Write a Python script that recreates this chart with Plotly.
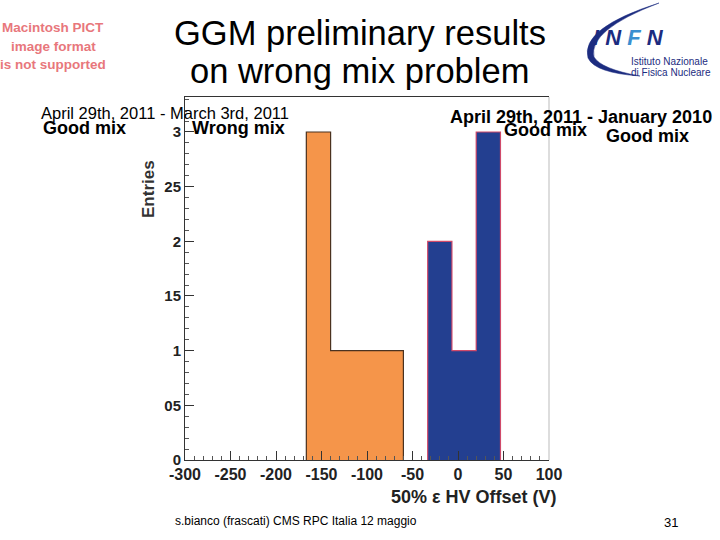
import numpy as np
import plotly.graph_objects as go

# ---------------- data ----------------
bin_edges = list(np.linspace(-300, 100, 16))          # 15 bins of 26.67 V
wrong_mix_counts = [0, 0, 0, 0, 0, 3, 1, 1, 1, 0, 0, 0, 0, 0, 0]   # April 29th, 2011 - March 3rd, 2011
good_mix_counts = [0, 0, 0, 0, 0, 0, 0, 0, 0, 0, 2, 1, 3, 0, 0]    # April 29th, 2011 - January 2010
x_tick_vals = [-300, -250, -200, -150, -100, -50, 0, 50, 100]
x_tick_text = ["-300", "-250", "-200", "-150", "-100", "-50", "0", "50", "100"]
y_tick_vals = [0, 0.5, 1, 1.5, 2, 2.5, 3]
y_tick_text = ["0", "05", "1", "15", "2", "25", "3"]

centers = [(a + b) / 2 for a, b in zip(bin_edges[:-1], bin_edges[1:])]
bw = bin_edges[1] - bin_edges[0]


def step_outline(counts):
    nz = [i for i, c in enumerate(counts) if c > 0]
    i0, i1 = nz[0], nz[-1]
    xs = [bin_edges[i0]] + bin_edges[i0:i1 + 2]
    ys = [0] + counts[i0:i1 + 1] + [0]
    return xs, ys


FONT = "Liberation Sans, Arial, sans-serif"
ORANGE = "#F5954A"
BLUE = "#233F90"

fig = go.Figure()
fig.add_trace(go.Bar(x=centers, y=wrong_mix_counts, width=bw, marker=dict(color=ORANGE, line=dict(width=0)),
                     hoverinfo="skip"))
fig.add_trace(go.Bar(x=centers, y=good_mix_counts, width=bw, marker=dict(color=BLUE, line=dict(width=0)),
                     hoverinfo="skip"))
xs, ys = step_outline(wrong_mix_counts)
fig.add_trace(go.Scatter(x=xs, y=ys, mode="lines", line=dict(shape="hv", color="#4a3220", width=1.2),
                         hoverinfo="skip"))
xs, ys = step_outline(good_mix_counts)
fig.add_trace(go.Scatter(x=xs, y=ys, mode="lines", line=dict(shape="hv", color="#D04A6A", width=1.2),
                         hoverinfo="skip"))

L, R, T, B = 185, 549, 97, 460


def px(x):
    return (x - L) / (R - L)


def py(y):
    return (B - y) / (B - T)


ann = []


def text(t, x, y, size, bold=False, color="#000", xanchor="center", textangle=0, italic=False, family=FONT):
    s = t
    if bold:
        s = "<b>" + s + "</b>"
    if italic:
        s = "<i>" + s + "</i>"
    ann.append(dict(text=s, x=px(x), y=py(y), xref="paper", yref="paper", xanchor=xanchor, yanchor="middle",
                    showarrow=False, textangle=textangle, borderpad=0,
                    font=dict(family=family, size=size, color=color)))


# title
text("GGM preliminary results", 360, 33, 34.5)
text("on wrong mix problem", 359, 71, 34.5)
# PICT placeholder
PINK = "#E8777C"
text("Macintosh PICT", 53, 27, 13.5, bold=True, color=PINK)
text("image format", 53, 46, 13.5, bold=True, color=PINK)
text("is not supported", 53, 64, 13.5, bold=True, color=PINK)
# INFN logo text
text("I N <span style='color:#3A8FD0'>F</span> N", 592, 37, 22, bold=True, italic=True, color="#1C2C80",
     xanchor="left")
text("Istituto Nazionale", 630, 61, 10, color="#1C2C80", xanchor="left")
text("di Fisica Nucleare", 630, 72, 10, color="#1C2C80", xanchor="left")
# labels
text("April 29th, 2011 - March 3rd, 2011", 40, 113, 16.5, xanchor="left")
text("Good mix", 42, 128, 18, bold=True, xanchor="left")
text("Wrong mix", 191, 128, 18, bold=True, xanchor="left")
text("April 29th, 2011 - January 2010", 449, 117, 18, bold=True, xanchor="left")
text("Good mix", 503, 130, 18, bold=True, xanchor="left")
text("Good mix", 605, 136, 18, bold=True, xanchor="left")
# axis titles
text("Entries", 148, 189, 17, bold=True, color="#333", textangle=-90)
text("50% ε HV Offset (V)", 558, 497, 18, bold=True, color="#222", xanchor="right")
# footer
text("s.bianco (frascati) CMS RPC Italia 12 maggio", 174, 521, 12, xanchor="left")
text("31", 671, 522, 13)

shapes = [
    # right frame line (light grey)
    dict(type="line", xref="paper", yref="paper", x0=1, x1=1, y0=0, y1=1, line=dict(color="#bbbbbb", width=1)),
    # INFN swoosh
    dict(type="path", xref="paper", yref="paper",
         path="M {},{} Q {},{} {},{} Q {},{} {},{} Q {},{} {},{} Q {},{} {},{} Z".format(
             px(659), py(3), px(580), py(28), px(588), py(58),
             px(595), py(73), px(640), py(76),
             px(601), py(69), px(594), py(57),
             px(588), py(30), px(659), py(3)),
         fillcolor="#1C2C80", line=dict(color="#1C2C80", width=0.5)),
]

fig.update_layout(
    width=720, height=540,
    margin=dict(l=L, r=720 - R, t=T, b=540 - B, pad=0),
    paper_bgcolor="white", plot_bgcolor="white",
    barmode="overlay", bargap=0, showlegend=False,
    annotations=ann, shapes=shapes,
    xaxis=dict(range=[-300, 100], tickvals=x_tick_vals, ticktext=["<b>" + t + "</b>" for t in x_tick_text],
               ticks="inside", ticklen=9,
               tickcolor="#333", showline=True, linecolor="#333", linewidth=1, mirror=True, showgrid=False,
               zeroline=False, tickfont=dict(family=FONT, size=16, color="#222"),
               minor=dict(dtick=10, ticks="inside", ticklen=4, tickcolor="#555", showgrid=False)),
    yaxis=dict(range=[0, 3.32], tickvals=y_tick_vals, ticktext=["<b>" + t + "</b>" for t in y_tick_text],
               ticks="inside", ticklen=9,
               tickcolor="#333", showline=True, linecolor="#333", linewidth=1, showgrid=False,
               zeroline=False, tickfont=dict(family=FONT, size=15, color="#222"),
               minor=dict(dtick=0.1, ticks="inside", ticklen=4, tickcolor="#555", showgrid=False)),
)

fig.write_html("out.html", config={"displayModeBar": False},
               post_script="document.body.style.margin='0';document.body.style.overflow='hidden';")
